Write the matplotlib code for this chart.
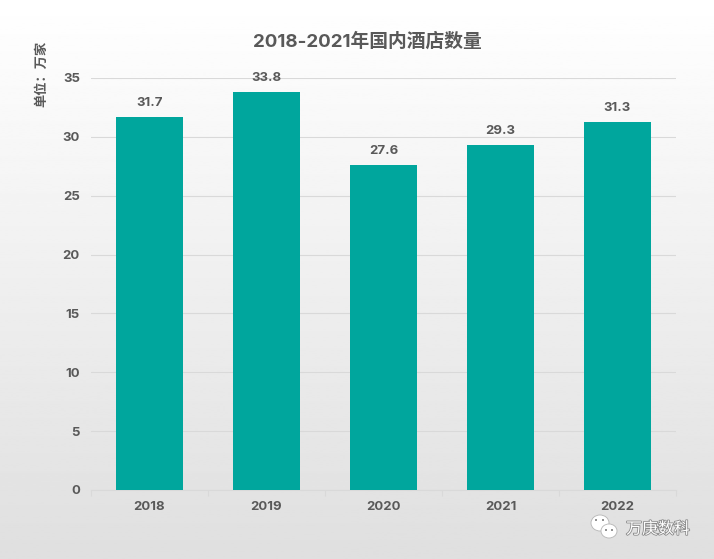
"""Hotel counts in China by year, bar chart on a grey gradient page."""
import matplotlib

matplotlib.use("Agg")

import matplotlib.patheffects as pe
import numpy as np
from matplotlib import pyplot as plt
from matplotlib.patches import Ellipse

years = ["2018", "2019", "2020", "2021", "2022"]
hotels = [31.7, 33.8, 27.6, 29.3, 31.3]
y_ticks = [0, 5, 10, 15, 20, 25, 30, 35]

title = "2018-2021年国内酒店数量"
unit_label = "单位：万家"
watermark = "万庚数科"

BAR_COLOR = "#00a69d"
TEXT_COLOR = "#595959"
GRID_COLOR = "#d9d9d9"
W, H = 714, 559

plt.rcParams["font.family"] = ["Inter", "Noto Sans CJK SC", "DejaVu Sans"]

fig = plt.figure(figsize=(W / 100, H / 100), dpi=100)

# page background, light at the top and grey at the bottom
bg = fig.add_axes([0, 0, 1, 1], zorder=0)
bg.imshow(np.linspace(1.0, 0.875, 256).reshape(-1, 1), cmap="gray", vmin=0, vmax=1,
          aspect="auto", extent=[0, W, H, 0])
bg.set_xlim(0, W)
bg.set_ylim(H, 0)
bg.axis("off")

ax = fig.add_axes([91 / W, 1 - 490 / H, 585 / W, 412 / H], zorder=1)
ax.patch.set_alpha(0)

x = np.arange(len(years))
ax.bar(x, hotels, width=0.575, color=BAR_COLOR, zorder=3)
for xi, val in zip(x, hotels):
    ax.annotate(f"{val}", (xi, val), xytext=(0, 5.5), textcoords="offset points",
                ha="center", va="bottom", fontsize=9.5, fontweight="bold",
                color=TEXT_COLOR, zorder=4)

ax.set_xlim(-0.5, len(years) - 0.5)
ax.set_ylim(0, 35)
ax.set_yticks(y_ticks)
ax.set_xticks(x, years)
ax.set_xticks(np.arange(len(years) + 1) - 0.5, minor=True)
ax.grid(True, axis="y", color=GRID_COLOR, linewidth=0.8, zorder=1)
ax.set_axisbelow(True)

for side in ["top", "right", "left"]:
    ax.spines[side].set_visible(False)
ax.spines["bottom"].set_color(GRID_COLOR)
ax.spines["bottom"].set_linewidth(0.8)

ax.tick_params(axis="y", length=0, pad=8, labelsize=9.5, labelcolor=TEXT_COLOR)
ax.tick_params(axis="x", which="major", length=0, pad=8, labelsize=9.5, labelcolor=TEXT_COLOR)
ax.tick_params(axis="x", which="minor", length=4, width=0.8, color=GRID_COLOR)
for label in ax.get_xticklabels() + ax.get_yticklabels():
    label.set_fontweight("bold")

fig.text(367 / W, 1 - 42 / H, title, ha="center", va="center", fontsize=13.5,
         fontweight="bold", color=TEXT_COLOR)
fig.text(42 / W, 1 - 74 / H, unit_label, ha="center", va="center", rotation=90,
         fontsize=9.5, fontweight="bold", color=TEXT_COLOR)

# wechat mark and account name in the corner
shadow = [pe.withStroke(linewidth=1.2, foreground="#8a8a8a")]
for cx, cy, w, h in [(600, 523, 18, 16), (609, 531, 16, 14)]:
    bg.add_patch(Ellipse((cx, cy), w, h, facecolor="white", edgecolor="#b5b5b5",
                         linewidth=0.6, zorder=3))
for cx, cy in [(596, 520), (603, 520), (606, 530), (612, 530)]:
    bg.add_patch(Ellipse((cx, cy), 2, 2, facecolor="#777777", edgecolor="none", zorder=4))
fig.text(658 / W, 1 - 529 / H, watermark, ha="center", va="center", fontsize=11.5,
         color="white", path_effects=shadow, zorder=5)

fig.savefig("out.png", dpi=100)
plt.close(fig)
